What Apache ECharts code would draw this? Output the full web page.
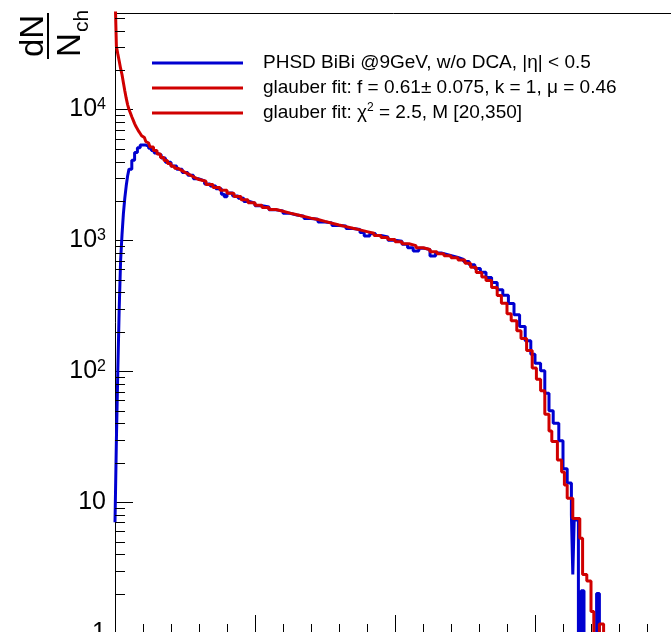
<!DOCTYPE html>
<html>
<head>
<meta charset="utf-8">
<script src="https://cdn.jsdelivr.net/npm/echarts@6/dist/echarts.min.js"></script>
<style>
html, body { margin: 0; padding: 0; background: #fff; }
#chart { width: 671px; height: 632px; }
</style>
</head>
<body>
<div id="chart"></div>
<script>
// PHSD histogram: bin left edge (Nch) and counts
var phsdN = [0, 1, 2, 3, 4, 5, 6, 7, 8, 9, 10, 12, 14, 16, 18, 20, 22, 24, 26, 28, 30, 33, 36, 40, 44, 48, 52, 56, 60, 64, 68, 72, 76, 78, 80, 84, 88, 92, 96, 100, 105, 110, 115, 120, 125, 130, 135, 140, 145, 150, 155, 160, 165, 170, 175, 178, 182, 186, 190, 195, 200, 205, 209, 213, 217, 221, 225, 229, 233, 237, 241, 245, 249, 253, 257, 261, 265, 269, 273, 277, 281, 285, 289, 293, 297, 300, 304, 307, 310, 313, 317, 320, 323, 326, 327, 328, 331, 333, 335, 344, 346];
var phsdVal = [7, 30, 100, 300, 700, 1100, 1600, 2100, 2600, 3100, 3500, 4100, 4700, 5100, 5350, 5350, 5250, 5050, 4850, 4650, 4500, 4250, 3950, 3700, 3500, 3300, 3150, 2950, 2850, 2700, 2600, 2480, 2250, 2150, 2300, 2180, 2100, 1980, 1920, 1840, 1800, 1710, 1680, 1610, 1560, 1530, 1470, 1450, 1380, 1360, 1300, 1290, 1230, 1210, 1150, 1080, 1130, 1090, 1060, 1000, 985, 935, 880, 830, 870, 850, 760, 800, 780, 760, 740, 715, 690, 650, 610, 570, 520, 476, 420, 380, 329, 270, 220, 171, 135, 115, 101, 68, 50, 40, 29.5, 18, 14, 8, 2.8, 7.3, 0.1, 2.1, 0.1, 2, 0.1];

// glauber fit histogram
var fitN = [0, 1, 2, 3, 4, 5, 6, 7, 8, 9, 10, 11, 12, 13, 14, 15, 16, 17, 18, 19, 20, 21, 22, 23, 24, 25, 27.5, 30, 32.5, 35, 37.5, 40, 42.5, 45, 47.5, 50, 52.5, 55, 57.5, 60, 65, 70, 75, 80, 85, 90, 95, 100, 105, 110, 115, 120, 125, 130, 135, 140, 145, 150, 155, 160, 165, 170, 175, 180, 185, 190, 195, 200, 205, 210, 215, 220, 225, 230, 235, 240, 245, 250, 254, 258, 262, 265, 269, 273, 276, 280, 283, 287, 290, 294, 298, 301, 304, 307, 310, 312, 316, 319, 321, 323, 327, 332, 334, 337, 340, 342, 346, 349];
var fitVal = [80000, 30300, 26600, 23500, 20600, 18500, 16000, 13900, 12200, 10900, 10000, 9400, 8800, 8300, 7800, 7400, 7100, 6800, 6550, 6300, 6100, 5900, 5700, 5540, 5350, 5164, 4850, 4571, 4300, 4074, 3870, 3690, 3550, 3428, 3310, 3206, 3100, 3006, 2915, 2831, 2667, 2535, 2410, 2291, 2168, 2042, 1941, 1854, 1786, 1722, 1667, 1614, 1567, 1524, 1479, 1442, 1396, 1352, 1312, 1274, 1236, 1202, 1167, 1132, 1091, 1052, 1014, 977, 942, 912, 879, 851, 820, 791, 762, 735, 708, 670, 624, 569, 525, 493, 437, 379, 331, 275, 243, 204, 178, 144, 106, 87, 71, 47, 35, 29, 21, 17, 13.5, 10.7, 7.5, 5.3, 2.8, 2.5, 1.46, 0.1, 1.17, 0.1];

// y-axis minor tick values (2..9 per decade)
var minorY = [2, 3, 4, 5, 6, 7, 8, 9, 20, 30, 40, 50, 60, 70, 80, 90, 200, 300, 400, 500, 600, 700, 800, 900, 2000, 3000, 4000, 5000, 6000, 7000, 8000, 9000, 20000, 30000, 40000, 50000];

var nameData = 'PHSD BiBi @9GeV, w/o DCA, |η| < 0.5';
var nameFit = 'glauber fit: f = 0.61± 0.075, k = 1, μ = 0.46';
var nameChi = 'glauber fit: χ2 = 2.5, M [20,350]';

var FONT = 'Liberation Sans, Arial, Helvetica, sans-serif';
var BLUE = '#0000d0', RED = '#d00000';

function pairs(xs, ys) {
	return xs.map(function (x, i) { return [x, ys[i]]; });
}

var chart = echarts.init(document.getElementById('chart'), null, { renderer: 'canvas' });

chart.setOption({
	animation: false,
	backgroundColor: '#fff',
	grid: { left: 115, right: -4, top: 13, bottom: -1, outerBoundsMode: 'none' },
	legend: {
		orient: 'vertical',
		left: 152,
		top: 52,
		padding: 0,
		itemGap: 3,
		itemWidth: 91,
		itemHeight: 3,
		icon: 'rect',
		selectedMode: false,
		data: [nameData, nameFit, nameChi],
		formatter: function (n) {
			return n === nameChi ? 'glauber fit: χ{sup|2} = 2.5, M [20,350]' : n;
		},
		textStyle: {
			fontFamily: FONT,
			fontSize: 19,
			lineHeight: 22,
			color: '#000',
			padding: [0, 0, 0, 15],
			rich: { sup: { fontFamily: FONT, fontSize: 12, verticalAlign: 'top', lineHeight: 22 } }
		}
	},
	xAxis: [{
		type: 'value',
		min: 0,
		max: 400,
		interval: 100,
		axisLine: { show: true, onZero: false, lineStyle: { color: '#000', width: 1 } },
		axisTick: { inside: true, length: 18, lineStyle: { color: '#000' } },
		minorTick: { show: true, splitNumber: 5, length: 9, lineStyle: { color: '#000' } },
		axisLabel: { show: false },
		splitLine: { show: false }
	}, {
		type: 'value',
		position: 'top',
		min: 0,
		max: 400,
		axisLine: { show: true, onZero: false, lineStyle: { color: '#000', width: 1 } },
		axisTick: { show: false },
		axisLabel: { show: false },
		splitLine: { show: false }
	}],
	yAxis: {
		type: 'log',
		logBase: 10,
		min: 1,
		max: 54600,
		axisLine: { show: true, onZero: false, lineStyle: { color: '#000', width: 1 } },
		axisTick: { inside: true, length: 18, lineStyle: { color: '#000' } },
		splitLine: { show: false },
		axisLabel: {
			margin: 9,
			showMinLabel: true,
			showMaxLabel: false,
			fontFamily: FONT,
			fontSize: 25,
			color: '#000',
			formatter: function (v) {
				var p = Math.round(Math.log10(v));
				if (p === 0) return '1';
				if (p === 1) return '10';
				return '10{sup|' + p + '}';
			},
			rich: { sup: { fontFamily: FONT, fontSize: 16, verticalAlign: 'top', color: '#000' } }
		}
	},
	// y title dN / N_ch, rotated to read bottom-to-top
	graphic: [{
		type: 'group',
		x: 48,
		y: 36,
		rotation: Math.PI / 2,
		children: [{
			type: 'text',
			style: { text: 'dN', x: 0, y: 2, align: 'center', verticalAlign: 'bottom', fontFamily: FONT, fontSize: 33, fill: '#000' }
		}, {
			type: 'line',
			shape: { x1: -23, y1: 0, x2: 23, y2: 0 },
			style: { stroke: '#000', lineWidth: 2 }
		}, {
			type: 'text',
			style: { text: 'N', x: -21, y: 6, align: 'left', verticalAlign: 'top', fontFamily: FONT, fontSize: 33, fill: '#000' }
		}, {
			type: 'text',
			style: { text: 'ch', x: 4, y: 45, align: 'left', verticalAlign: 'bottom', fontFamily: FONT, fontSize: 21, fill: '#000' }
		}]
	}],
	series: [{
		name: nameData,
		type: 'line',
		step: 'end',
		symbol: 'none',
		color: BLUE,
		lineStyle: { color: BLUE, width: 3 },
		data: pairs(phsdN, phsdVal),
		z: 3
	}, {
		name: nameFit,
		type: 'line',
		step: 'end',
		symbol: 'none',
		color: RED,
		lineStyle: { color: RED, width: 3 },
		data: pairs(fitN, fitVal),
		z: 4
	}, {
		name: nameChi,
		type: 'line',
		symbol: 'none',
		color: RED,
		lineStyle: { color: RED, width: 3 },
		data: []
	}, {
		type: 'custom',
		silent: true,
		data: minorY.map(function (v) { return [0, v]; }),
		renderItem: function (params, api) {
			var p = api.coord([0, api.value(1)]);
			var y = Math.round(p[1]) + 0.5;
			return {
				type: 'line',
				shape: { x1: p[0], y1: y, x2: p[0] + 10, y2: y },
				style: { stroke: '#000', lineWidth: 1 }
			};
		},
		z: 5
	}]
});
</script>
</body>
</html>
